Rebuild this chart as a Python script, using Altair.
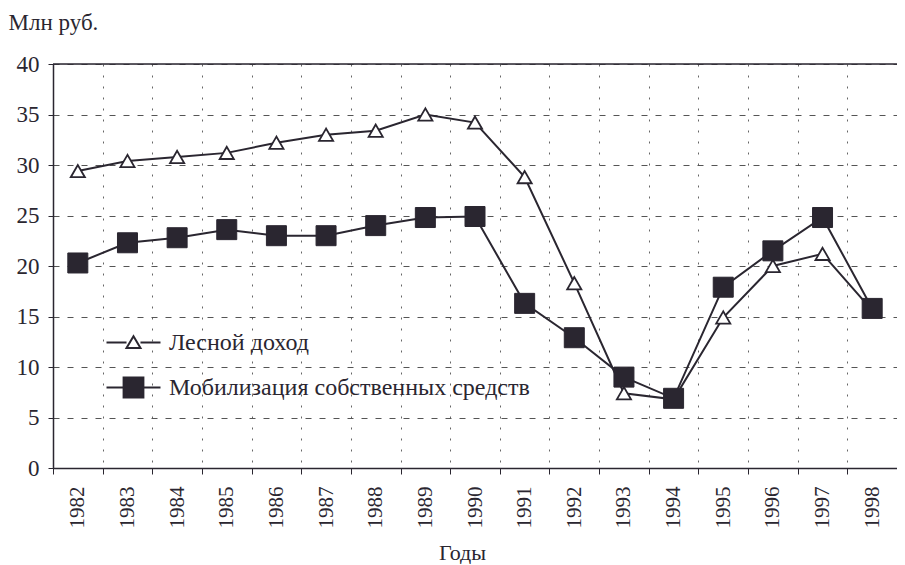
import altair as alt
import pandas as pd

years = [str(y) for y in range(1982, 1999)]
forest_income = [29.4, 30.4, 30.8, 31.2, 32.2, 33.0, 33.4, 35.0, 34.2, 28.8, 18.3, 7.4, 6.8, 14.9, 20.0, 21.2, 15.6]
own_funds = [20.3, 22.3, 22.8, 23.6, 23.0, 23.0, 24.0, 24.8, 24.9, 16.3, 12.9, 9.0, 6.9, 17.9, 21.5, 24.8, 15.8]
series_names = ["Лесной доход", "Мобилизация собственных средств"]

rows = []
for i, y in enumerate(years):
    rows.append({"year": y, "value": forest_income[i], "series": series_names[0]})
    rows.append({"year": y, "value": own_funds[i], "series": series_names[1]})
df = pd.DataFrame(rows)

FONT = "Times New Roman, Liberation Serif, serif"
INK = "#2a2630"

x_enc = alt.X("year:N", sort=years,
              scale=alt.Scale(paddingInner=0, paddingOuter=0),
              axis=alt.Axis(title="Годы", labelAngle=-90, labelFontSize=21, labelFont=FONT,
                            labelColor=INK, labelPadding=12, labelBaseline="middle",
                            tickBand="extent", tickSize=6, tickColor=INK, domainColor=INK,
                            domainWidth=1.5, grid=True, gridDash=[2, 9], gridColor="#666",
                            gridWidth=1, titleFont=FONT, titleFontSize=22, titleFontWeight="normal",
                            titleColor=INK, titleX=409, titleY=91, titleBaseline="alphabetic",
                            titleAlign="center"))
y_enc = alt.Y("value:Q",
              scale=alt.Scale(domain=[0, 40], nice=False),
              axis=alt.Axis(title="Млн руб.", values=[0, 5, 10, 15, 20, 25, 30, 35, 40],
                            labelFontSize=23, labelFont=FONT, labelColor=INK, labelPadding=9,
                            tickSize=5, tickColor=INK, domainColor=INK, domainWidth=1.5,
                            grid=True, gridDash=[6, 8], gridColor="#555", gridWidth=1,
                            titleAngle=0, titleAlign="left", titleBaseline="middle",
                            titleX=-45, titleY=-42, titleFont=FONT, titleFontSize=23,
                            titleFontWeight="normal", titleColor=INK))

base = alt.Chart(df)

lines = base.mark_line(color=INK, strokeWidth=2).encode(x=x_enc, y=y_enc, detail="series:N")

tri = base.transform_filter(alt.datum.series == series_names[0]).mark_point(
    shape="triangle-up", size=200, filled=True, fill="white", stroke=INK, strokeWidth=1.8, opacity=1
).encode(x=x_enc, y=y_enc)

sq = base.transform_filter(alt.datum.series == series_names[1]).mark_point(
    shape="square", size=400, filled=True, fill=INK, stroke=INK, strokeWidth=1, opacity=1
).encode(x=x_enc, y=y_enc)

tri_path = "M-1.2,0L-0.31,0M0.31,0L1.2,0M0,-0.28L0.31,0.24L-0.31,0.24Z"
sq_path = "M-1.2,0L-0.44,0M0.44,0L1.2,0M-0.44,-0.44L0.44,-0.44L0.44,0.44L-0.44,0.44Z"

legend_cfg = alt.Legend(title=None, orient="none", legendX=57, legendY=255, padding=0,
                        symbolSize=2025, symbolStrokeWidth=2, symbolOpacity=1,
                        labelFont=FONT, labelFontSize=24, labelColor=INK, labelOffset=12,
                        rowPadding=9, labelLimit=700)

legend_layer = base.mark_point(opacity=0, filled=True).encode(
    x=x_enc, y=y_enc,
    shape=alt.Shape("series:N", scale=alt.Scale(domain=series_names, range=[tri_path, sq_path]),
                    legend=legend_cfg),
    fill=alt.Fill("series:N", scale=alt.Scale(domain=series_names, range=["white", INK]),
                  legend=legend_cfg),
    stroke=alt.Stroke("series:N", scale=alt.Scale(domain=series_names, range=[INK, INK]),
                      legend=legend_cfg),
)

frame_top = alt.Chart(pd.DataFrame({"v": [40]})).mark_rule(color=INK, strokeWidth=1.5).encode(
    y=alt.datum(40))

chart = alt.layer(lines, tri, sq, legend_layer, frame_top).properties(
    width=844, height=404,
    autosize=alt.AutoSizeParams(type="none"),
    padding={"left": 45, "top": 56, "right": 0, "bottom": 96},
).configure_view(stroke=None).configure(background="white")

chart.save("out.html", embed_options={"renderer": "svg", "actions": False})
